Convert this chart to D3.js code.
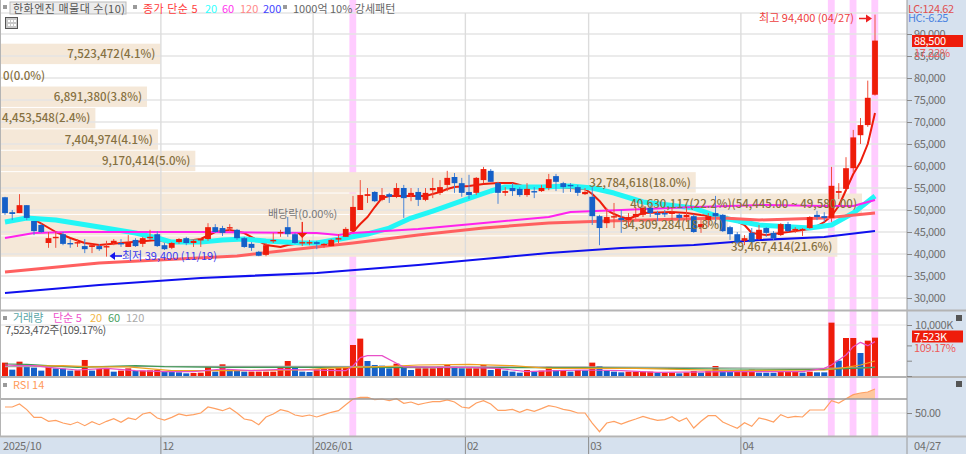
<!DOCTYPE html>
<html><head><meta charset="utf-8">
<script src="https://cdnjs.cloudflare.com/ajax/libs/d3/7.8.5/d3.min.js"></script>
<style>
html,body{margin:0;padding:0;background:#fff;overflow:hidden}
text{font-family:"Noto Sans CJK KR","Noto Sans",sans-serif;font-size:11px}
</style></head><body><svg id="c" width="966" height="454"></svg>
<script>
const opens=[52900,49500,49300,51100,47500,46600,42500,43600,44500,42500,42500,41800,41600,41800,41600,42500,42500,41600,43200,42300,43600,44500,42000,41400,42700,43600,42500,43200,43400,46100,45900,45900,45500,43600,42300,40500,39800,43000,44800,46100,44500,42500,42500,42700,42000,41800,43400,43900,45200,50000,53200,54100,52300,53600,53000,55000,53400,54100,52300,54500,53900,55700,57500,56100,54100,53900,56800,58900,56100,53900,55000,54800,53400,54300,54300,55000,57700,56100,55700,55200,53600,53000,48600,47000,48400,48200,47700,48400,48900,50500,49300,49300,49100,48900,48400,48600,46100,47700,49300,48900,46100,44500,43000,44800,43400,45900,44800,44300,46800,45500,45500,45900,48900,48600,48200,53900,54800,59500,67000,69300,76200];
const closes=[49300,49100,51100,48200,45200,45000,43600,43900,42300,42300,42700,41100,42000,41100,41800,43000,42300,42700,41800,43600,43900,41800,41100,42500,43400,42500,43000,43400,46100,45000,44800,46100,43600,41600,41400,39600,42000,43200,45000,44500,42500,42700,42700,42300,42300,43200,43600,45700,50700,53400,53600,52000,53400,53000,55000,52700,53900,52300,53900,55000,55200,57300,56100,53900,53400,57300,59300,56400,53900,54300,54300,53400,54800,54100,55000,57000,56400,55200,55500,53900,54100,48600,45900,48400,48600,47700,48400,49100,50500,49300,48900,49100,49500,48200,48900,45000,46800,48600,48600,45200,44500,42700,43600,42700,45500,44800,43600,46800,45200,45700,45700,48400,48400,48200,55500,54300,59500,66500,69300,75500,88500];
const highs=[53000,50000,53600,51100,47500,46900,45000,45000,45000,43400,43400,43400,42300,42300,43000,43400,43400,44300,43600,43900,45500,45200,42500,42700,43600,43900,43200,43600,47000,46800,46400,46800,45700,43900,42700,40700,42500,44800,45500,48400,44800,47300,43200,43000,42500,43400,44500,46100,53200,56800,55000,54300,55000,53900,56100,55700,55000,55000,55000,57300,56800,58900,58400,57300,58000,57500,59800,59300,56400,55200,56100,55200,56100,55200,55700,58200,58200,56400,56100,55700,55000,55200,48900,50500,51600,50000,49300,50700,51100,51100,49800,50000,50500,49300,50700,49100,47700,49300,53200,49100,46400,45000,44300,45900,46600,46100,45200,47000,47300,46100,45900,48600,49800,49500,59800,56100,62000,68200,70900,79400,94400];
const lows=[48900,47700,49300,47700,44300,44800,41400,41400,42000,41400,41600,40200,40200,40700,39400,42000,41600,41600,41600,41600,43200,41600,40900,41100,42300,42000,41600,41600,43000,44800,44100,45200,43200,41400,40700,39500,39500,42500,43900,43900,42300,41800,42000,41100,41400,41800,42500,43900,45200,50000,51600,51800,52000,51600,52700,48200,52000,50900,52000,52700,53400,54300,53900,53000,52500,53400,56100,56400,51400,53200,53200,53000,53000,52700,54100,54500,54300,53900,54100,53200,53400,46600,42000,45900,45900,44800,46100,48000,48400,48400,47500,48400,47700,47700,47300,44800,44800,46100,46600,45000,43200,42300,42000,42500,43200,43900,43200,44100,45000,44800,44100,45700,47700,47300,47300,52500,54500,58500,65000,68900,76000];
const volumes=[2620,1240,2810,2030,1640,1050,1830,1500,1440,1050,1110,3140,1050,1370,1500,850,1050,1500,980,1050,1110,1180,850,790,720,520,590,650,1960,850,2290,1370,980,850,850,850,850,850,1770,2940,1640,850,790,1310,1370,1370,1770,1770,6080,7330,2940,2160,2030,1500,2420,1960,1180,1500,1500,1500,1960,2160,1830,1500,1500,1500,2160,1180,1440,1050,850,650,1180,850,1050,1830,1180,1180,850,1180,1110,2620,1960,1050,850,720,850,850,850,850,650,660,660,520,720,980,650,980,1960,980,850,860,980,1240,650,640,630,780,790,800,650,850,720,719,10460,3010,7450,7450,4510,6930,7523];
const rsi=[58.6,58.6,62.9,54.8,43.8,43.8,38.1,39.5,35.7,33.3,37.1,31.9,37.6,33.3,38.1,41.9,36.7,42.9,40.5,48.6,51,42.9,40,43.8,48.6,46.2,47.6,50,58.6,56.2,53.3,57.1,50,41.4,39.5,33.3,44.3,48.6,54.8,52.4,47.1,45.2,47.1,44.3,47.6,51,53.3,61.9,70,72.4,72.4,69,70,67.6,70.5,63.8,65.7,61.9,64.3,66.2,66.2,68.6,65.7,58.6,57.1,64.3,67.6,62.9,53.8,53.8,55.2,51,55.2,52.4,56.2,60.5,58.6,55.2,53.3,50,50,35.7,23.3,35.7,38.1,34.3,38.1,41.4,45.2,41.9,39.5,40.5,44.8,38.1,42.9,28.6,38.1,46.2,46.2,37.1,32.4,28.1,36.2,31,42.9,40.5,37.1,47.6,43.3,45.2,44.3,54.3,54.3,54.3,67.6,64.3,70.5,76.2,78.6,80,84.3];

const ma5Idx=[3,7,9,11,13,16,21,23,27,29,31,33,35,36,38,39,41,44,46,47,48,49,50,51,52,53,56,58,60,61,62,64,66,68,70,71,72,76,80,81,82,83,84,85,86,88,92,94,96,100,102,103,105,107,109,111,112,113,114,115,116,117,118,119,120];
const ma5Val=[48860,45000,43640,42500,42050,42500,43180,42500,43410,45000,45450,44770,42950,42050,41590,42050,42500,42270,43180,44090,45000,46820,48410,50680,52730,53180,53180,53180,54090,54770,55230,55450,55910,56140,56140,55680,55000,55230,54770,53640,52050,50000,49090,48410,47950,49320,49550,49320,48860,48180,46590,44770,44320,44770,45230,45680,46360,47270,48640,50910,54550,58180,60910,65000,72050];
const ma20Idx=[0,3,7,13,18,21,23,27,30,33,36,41,43,47,50,53,56,59,63,67,69,74,78,81,84,88,95,99,104,111,114,117,120];
const ma20Val=[47270,48180,47730,46140,44770,43640,42700,42700,43200,43400,42950,42500,42500,43640,44550,45900,48180,49770,52050,54320,55230,55230,55450,55000,53860,51820,50450,48180,46590,45910,46590,49320,53180];
const ma60Idx=[0,4,9,27,43,46,48,57,66,75,78,85,95,105,113,117,120];
const ma60Val=[43640,44770,45000,45000,44770,44320,44770,45680,47050,48410,49550,50000,50680,51140,50910,50910,52270];
const ma120Idx=[0,13,32,43,48,57,66,75,83,99,104,113,120];
const ma120Val=[35910,37950,39550,41590,42500,44320,45910,47050,47500,48180,47730,48180,49320];
const ma200Idx=[0,13,27,43,57,66,75,85,95,104,113,120];
const ma200Val=[31130,32950,34540,35680,37500,38860,40230,41360,42050,43180,43860,45230];

const vma5Idx=[0,2,4,6,10,14,18,22,26,30,34,38,42,46,47,48,49,50,52,54,55,60,64,68,72,76,80,85,90,100,110,113,114,115,116,117,118,119,120];
const vma5Val=[2160,2030,2030,1700,1180,1500,1050,850,850,1370,1050,1310,1180,1050,1050,1960,3600,3990,3990,2490,1770,1700,1700,1500,850,1050,1180,1050,720,850,850,1500,2160,3140,4120,5750,6600,5950,6740];
const vma20Idx=[4,8,12,17,21,23,32,41,44,47,53,57,64,70,75,87,100,113,116,118,120];
const vma20Val=[1960,2030,1770,1770,1310,1050,1050,1180,1500,1640,1900,2160,2290,2030,1500,1500,1050,1180,1700,2160,2940];
const vma60Idx=[0,3,10,18,22,30,43,60,80,100,113,120];
const vma60Val=[2350,2290,1700,2030,1830,1700,1700,1640,1640,1370,1240,1700];
const vma120Idx=[0,40,80,113,120];
const vma120Val=[1830,1900,1770,1500,1700];

const profileEdges=[88500,83635,78770,73905,69040,64175,59310,54445,49580,44715,39850];
const profileVolumes=[7523472,0,6891380,4453548,7404974,9170414,32784618,40630117,34309284,39467414];
const profileLabels=["7,523,472(4.1%)","0(0.0%)","6,891,380(3.8%)","4,453,548(2.4%)","7,404,974(4.1%)","9,170,414(5.0%)","32,784,618(18.0%)","40,630,117(22.2%)(54,445.00 ~ 49,580.00)","34,309,284(18.8%)","39,467,414(21.6%)"];

const highlightIdx=[48,114,117,120];
const monthIdx=[0,22,43,64,81,102];
const monthLabels=["2025/10","12","2026/01","02","03","04"];
const priceTicks=[30000,35000,40000,45000,50000,55000,60000,65000,70000,75000,80000,85000,90000];

const C={red:"#ee1c0a",blue:"#1560c8",grid:"#e4e4e4",sep:"#b4b4b4",panel:"#d6e1ee",ax:"#6f6f6f",tan:"#f5e8d8",lab:"#86703f"};
const svg=d3.select("#c");
const idx=d3.range(opens.length);
const xb=d3.scaleBand().domain(idx).range([1.375,878.625]);
const cx=i=>xb(i)+xb.step()/2;
const y=d3.scaleLinear().domain([30000,90000]).range([298,34]);
const yV=d3.scaleLinear().domain([0,10000]).range([376,325]);
const yR=d3.scaleLinear().domain([30,70]).range([427,399]);
const yPV=d3.scaleLinear().domain([0,40630117]).range([0,861]);

svg.append("rect").attr("width",966).attr("height",454).attr("fill","#fff");
svg.append("g").selectAll("rect").data(highlightIdx).join("rect")
 .attr("x",d=>xb(d)).attr("y",0).attr("width",xb.step()-.4).attr("height",437).attr("fill","#ffccff");
const PVO=2.6;
svg.append("g").selectAll("rect").data(profileVolumes).join("rect")
 .attr("x",1).attr("y",(d,i)=>y(profileEdges[i])+PVO+.5)
 .attr("width",d=>yPV(d)).attr("height",(d,i)=>y(profileEdges[i+1])-y(profileEdges[i])-1)
 .attr("fill",C.tan);
const gridG=svg.append("g");
gridG.selectAll("line.h").data(priceTicks).join("line").attr("x1",1).attr("x2",907)
 .attr("y1",d=>y(d)).attr("y2",d=>y(d)).attr("stroke",C.grid).attr("stroke-width",1.4);
gridG.append("line").attr("x1",1).attr("x2",907).attr("y1",13).attr("y2",13).attr("stroke",C.grid).attr("stroke-width",1.4);
gridG.selectAll("line.v").data(monthIdx.slice(1)).join("line").attr("x1",d=>xb(d)).attr("x2",d=>xb(d))
 .attr("y1",13).attr("y2",437).attr("stroke","#dcdcdc").attr("stroke-width",1.4);
gridG.append("line").attr("x1",1).attr("x2",907).attr("y1",yV(10000)).attr("y2",yV(10000)).attr("stroke",C.grid).attr("stroke-width",1.2);
gridG.append("line").attr("x1",1).attr("x2",907).attr("y1",yR(50)).attr("y2",yR(50)).attr("stroke",C.grid).attr("stroke-width",1.2);

const line=(sc)=>d3.line().x(d=>cx(d[0])).y(d=>sc(d[1]));
const zipS=(a,b)=>a.map((v,i)=>[v,b[i]]);
function ma(a,b,color,w,sc=y){svg.append("path").datum(zipS(a,b)).attr("d",line(sc)).attr("fill","none").attr("stroke",color).attr("stroke-width",w).attr("stroke-linejoin","round");}
ma(ma5Idx,ma5Val,"#ee1c0a",2);
ma(ma20Idx,ma20Val,"#22f6f6",5);
ma(ma60Idx,ma60Val,"#ff22ee",2);
ma(ma120Idx,ma120Val,"#ff6060",3);
ma(ma200Idx,ma200Val,"#1010ee",2.2);

const cg=svg.append("g");
const colr=i=>closes[i]>=opens[i]?C.red:C.blue;
cg.selectAll("line").data(idx).join("line").attr("x1",cx).attr("x2",cx)
 .attr("y1",i=>y(highs[i])).attr("y2",i=>y(lows[i])).attr("stroke",i=>colr(i)===C.red?"#f0503c":"#4a86d8").attr("stroke-width",1);
cg.selectAll("rect").data(idx).join("rect").attr("x",i=>cx(i)-2.9).attr("width",5.8)
 .attr("y",i=>y(Math.max(opens[i],closes[i])))
 .attr("height",i=>Math.max(1.4,Math.abs(y(opens[i])-y(closes[i]))))
 .attr("fill",colr);

svg.append("g").selectAll("text").data(profileLabels).join("text")
 .attr("x",(d,i)=>profileVolumes[i]?yPV(profileVolumes[i])-4:3)
 .attr("text-anchor",(d,i)=>profileVolumes[i]?"end":"start")
 .attr("y",(d,i)=>(y(profileEdges[i])+y(profileEdges[i+1]))/2+PVO+4.3)
 .style("font-size","11.5px").attr("fill",C.lab).attr("font-weight",500).text(d=>d);

svg.append("g").selectAll("rect").data(idx).join("rect").attr("x",i=>cx(i)-3).attr("width",6)
 .attr("y",i=>yV(volumes[i])).attr("height",i=>yV(0)-yV(volumes[i]))
 .attr("fill",i=>(i===0||volumes[i]>=volumes[i-1])?C.red:C.blue);
ma(vma120Idx,vma120Val,"#a8a8a8",1.2,yV);
ma(vma60Idx,vma60Val,"#3f9a56",1.2,yV);
ma(vma20Idx,vma20Val,"#f0a020",1.2,yV);
ma(vma5Idx,vma5Val,"#e850c8",1.2,yV);

svg.append("path").datum(idx).attr("fill","#ffc89e")
 .attr("d",d3.area().x(cx).y0(yR(70)).y1(i=>yR(Math.max(70,rsi[i]))));
svg.append("path").datum(idx).attr("fill","none").attr("stroke","#ffa062").attr("stroke-width",1.2)
 .attr("d",d3.line().x(cx).y(i=>yR(rsi[i])));

const seps=[[0,907,yR(70),1.6]];
svg.append("g").selectAll("line").data(seps).join("line").attr("x1",d=>d[0]).attr("x2",d=>d[1])
 .attr("y1",d=>d[2]).attr("y2",d=>d[2]).attr("stroke","#9a9a9a").attr("stroke-width",d=>d[3]);
svg.append("line").attr("x1",.5).attr("x2",.5).attr("y1",0).attr("y2",437).attr("stroke",C.sep);

svg.append("rect").attr("x",907).attr("y",0).attr("width",59).attr("height",454).attr("fill",C.panel);
svg.append("rect").attr("x",0).attr("y",437.5).attr("width",966).attr("height",16.5).attr("fill",C.panel);
svg.append("line").attr("x1",907).attr("x2",907).attr("y1",0).attr("y2",454).attr("stroke","#9a9a9a").attr("stroke-width",1);
[[0,966,310.5],[0,966,377],[0,966,436.5]].forEach(d=>svg.append("line").attr("x1",d[0]).attr("x2",d[1]).attr("y1",d[2]).attr("y2",d[2]).attr("stroke",C.sep).attr("stroke-width",1.8));

function styleAxis(g){g.select(".domain").remove();g.selectAll("line").attr("stroke","#888");g.selectAll("text").attr("fill",C.ax).style("font-size","11px").style("letter-spacing","-0.4px");}
svg.append("g").attr("transform","translate(907,0)")
 .call(d3.axisRight(y).tickValues(priceTicks).tickSize(5).tickPadding(2).tickFormat(d3.format(","))).call(styleAxis);
svg.append("g").attr("transform","translate(907,0)")
 .call(d3.axisRight(yV).tickValues([0,3000,6000,10000]).tickSize(5).tickPadding(3).tickFormat(d=>d===10000?"10,000K":"")).call(styleAxis);
svg.append("g").attr("transform","translate(907,0)")
 .call(d3.axisRight(yR).tickValues([50]).tickSize(5).tickPadding(3).tickFormat(d3.format(".2f"))).call(styleAxis);
const bot=svg.append("g").attr("transform","translate(0,437)");
bot.selectAll("g").data(monthIdx).join("g").attr("transform",d=>`translate(${d===0?1.5:xb(d)},0)`).each(function(d,i){
  const g=d3.select(this);
  if(i>0) g.append("line").attr("y1",0).attr("y2",17).attr("stroke","#8a8a8a");
  g.append("text").attr("x",1.5).attr("y",13).attr("fill",C.ax).style("letter-spacing","-0.4px").text(monthLabels[i]);
});
bot.append("text").attr("x",914).attr("y",13).attr("fill",C.ax).style("letter-spacing","-0.4px").text("04/27");

function tag(yy,txt,sub){
 svg.append("rect").attr("x",912).attr("y",yy-6).attr("width",51).attr("height",12).attr("fill",C.red);
 svg.append("text").attr("x",914).attr("y",yy+4).attr("fill","#fff").style("letter-spacing","-0.3px").text(txt);
 svg.append("text").attr("x",914).attr("y",yy+15.5).attr("fill","#ee5a5a").style("letter-spacing","-0.3px").text(sub);
}
tag(41,"88,500","17.22%");
tag(336.5,"7,523K","109.17%");
svg.append("text").attr("x",908).attr("y",13).attr("fill","#e05050").style("letter-spacing","-0.4px").text("LC:124.62");
svg.append("text").attr("x",908).attr("y",22).attr("fill","#4a82e0").style("letter-spacing","-0.4px").text("HC:-6.25");

const sq=(x,yy,s=4,f="#9a9a9a")=>svg.append("rect").attr("x",x).attr("y",yy).attr("width",s).attr("height",s).attr("fill",f);
const T=(x,yy,t,f,anchor,ls)=>{const e=svg.append("text").attr("x",x).attr("y",yy).attr("fill",f).attr("text-anchor",anchor||"start").text(t);if(ls)e.style("letter-spacing",ls+"px");return e;};
svg.append("rect").attr("x",10).attr("y",2).attr("width",116).attr("height",12).attr("fill","#ececec").attr("stroke","#bbb");
sq(3,5);T(13,13,"한화엔진 매물대 수(10)","#555",null,.5);
sq(133,5);T(143,13,"종가 단순 5","#ff3c3c",null,.5);T(205,13,"20","#33ffff");T(222,13,"60","#ff33ee");T(240,13,"120","#ff8888");T(263,13,"200","#4444ff");
sq(283,5);T(293,13,"1000억 10% 강세패턴","#666");
svg.append("rect").attr("x",5.5).attr("y",17.5).attr("width",12).attr("height",11).attr("fill","#c8c8c8").attr("stroke","#555");
[[8,20],[11,20],[14,20],[8,24],[11,24],[14,24]].forEach(p=>sq(p[0],p[1],2,"#fff"));
sq(3,316);T(13,322,"거래량","#5aa6a6");T(53,322,"단순 5","#ee55cc");T(90,322,"20","#f2b648");T(108,322,"60","#4aa060");T(126,322,"120","#aaaaaa");
T(5,334,"7,523,472주(109.17%)","#555",null,-.5);
sq(3,383);T(13,389,"RSI 14","#ff9a5a");
sq(956,315,6,"#555");sq(956,381,6,"#555");

T(854,22,"최고 94,400 (04/27)","#ee4040","end");
svg.append("line").attr("x1",859).attr("x2",868).attr("y1",18.5).attr("y2",18.5).attr("stroke","#ee2020").attr("stroke-width",1.5);
svg.append("path").attr("d","M866,14.5L872,18.5L866,22.5Z").attr("fill","#ee2020");
T(122,260,"최저 39,400 (11/19)","#3c3cee");
svg.append("line").attr("x1",113).attr("x2",122).attr("y1",256).attr("y2",256).attr("stroke","#1414ee").attr("stroke-width",1.5);
svg.append("path").attr("d","M109.5,256L115,252L115,260Z").attr("fill","#1414ee");
T(268,218,"배당락(0.00%)","#777");
svg.append("line").attr("x1",cx(41)).attr("x2",cx(41)).attr("y1",222).attr("y2",234).attr("stroke","#ee1c0a").attr("stroke-width",1);
svg.append("path").attr("d",`M${cx(41)-5},233L${cx(41)+5},233L${cx(41)},238Z`).attr("fill","#ee1c0a");
</script></body></html>
